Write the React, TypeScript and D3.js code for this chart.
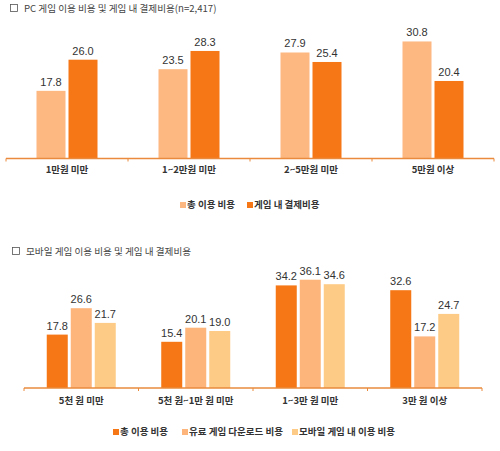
import * as d3 from 'd3';

// PC chart data
const pcCategories = ['1만원 미만', '1~2만원 미만', '2~5만원 미만', '5만원 이상'];
const pcSeries = ['총 이용 비용', '게임 내 결제비용'];
const pcTotal = [17.8, 23.5, 27.9, 30.8];
const pcInGame = [26.0, 28.3, 25.4, 20.4];

// Mobile chart data
const mobileCategories = ['5천 원 미만', '5천 원~1만 원 미만', '1~3만 원 미만', '3만 원 이상'];
const mobileSeries = ['총 이용 비용', '유료 게임 다운로드 비용', '모바일 게임 내 이용 비용'];
const mobileTotal = [17.8, 15.4, 34.2, 32.6];
const mobileDownload = [26.6, 20.1, 36.1, 17.2];
const mobileInGame = [21.7, 19.0, 34.6, 24.7];

const KR_FONT = '"Noto Sans CJK KR", "Noto Sans", sans-serif';
const NUM_FONT = '"Liberation Sans", Arial, sans-serif';
const AXIS_COLOR = '#E98A3C';
const TEXT_COLOR = '#333';

interface GroupedBarProps {
  title: string;
  categories: string[];
  series: string[];
  values: number[][];
  colors: string[];
  xRange: [number, number];
  baseY: number;
  domainMax: number;
  topY: number;
  barWidth: number;
  gap: number;
  titleX: number;
  titleY: number;
  catLabelY: number;
  legendY: number;
  legendX: number[];
}

function GroupedBar(p: GroupedBarProps) {
  const x = d3.scaleBand<string>().domain(p.categories).range(p.xRange).padding(0);
  const n = p.series.length;
  const step = p.barWidth + p.gap;
  const total = step * n - p.gap;
  const inner = d3
    .scaleBand<string>()
    .domain(p.series)
    .range([-total / 2, total / 2])
    .paddingInner(p.gap / step);
  const y = d3.scaleLinear().domain([0, p.domainMax]).range([p.baseY, p.topY]);

  // ticks sit on the band boundaries
  const boundaries = [...p.categories.map((c) => x(c) ?? 0), p.xRange[1]];

  return (
    <g>
      {/* title */}
      <rect x={p.titleX} y={p.titleY - 7.5} width={7} height={7} fill="none" stroke="#555" strokeWidth={0.8} />
      <text x={p.titleX + 13.5} y={p.titleY} fontFamily={KR_FONT} fontSize={9.6} fill="#444">
        {p.title}
      </text>

      {/* bars */}
      {p.categories.map((c, ci) => {
        const cx = (x(c) ?? 0) + x.bandwidth() / 2;
        return (
          <g key={c}>
            {p.series.map((s, si) => {
              const v = p.values[si][ci];
              const bx = cx + (inner(s) ?? 0);
              return (
                <g key={s}>
                  <rect
                    x={bx}
                    y={y(v)}
                    width={inner.bandwidth()}
                    height={p.baseY - y(v)}
                    fill={p.colors[si]}
                  />
                  <text
                    x={bx + inner.bandwidth() / 2}
                    y={y(v) - 5}
                    textAnchor="middle"
                    fontFamily={NUM_FONT}
                    fontSize={11}
                    fill={TEXT_COLOR}
                  >
                    {v.toFixed(1)}
                  </text>
                </g>
              );
            })}
            <text
              x={cx}
              y={p.catLabelY}
              textAnchor="middle"
              fontFamily={KR_FONT}
              fontSize={9.5}
              fontWeight={600}
              fill={TEXT_COLOR}
            >
              {c}
            </text>
          </g>
        );
      })}

      {/* axis */}
      <line x1={p.xRange[0]} x2={p.xRange[1]} y1={p.baseY} y2={p.baseY} stroke={AXIS_COLOR} strokeWidth={1.3} />
      {boundaries.map((bx, i) => (
        <line key={i} x1={bx} x2={bx} y1={p.baseY} y2={p.baseY + 3} stroke={AXIS_COLOR} strokeWidth={1} />
      ))}

      {/* legend */}
      {p.series.map((s, si) => (
        <g key={s} transform={`translate(${p.legendX[si]},${p.legendY})`}>
          <rect x={0} y={-6} width={6} height={6} fill={p.colors[si]} />
          <text x={7} y={0} fontFamily={KR_FONT} fontSize={9.5} fontWeight={600} fill={TEXT_COLOR}>
            {s}
          </text>
        </g>
      ))}
    </g>
  );
}

export default function App() {
  return (
    <svg
      width={500}
      height={451}
      style={{ position: 'absolute', left: 0, top: 0, background: '#fff' }}
    >
      <GroupedBar
        title="PC 게임 이용 비용 및 게임 내 결제비용(n=2,417)"
        categories={pcCategories}
        series={pcSeries}
        values={[pcTotal, pcInGame]}
        colors={['#FDB882', '#F57716']}
        xRange={[6, 494]}
        baseY={158.5}
        topY={25.5}
        domainMax={35}
        barWidth={29}
        gap={3}
        titleX={10.5}
        titleY={12}
        catLabelY={173}
        legendY={208}
        legendX={[180, 247]}
      />
      <GroupedBar
        title="모바일 게임 이용 비용 및 게임 내 결제비용"
        categories={mobileCategories}
        series={mobileSeries}
        values={[mobileTotal, mobileDownload, mobileInGame]}
        colors={['#F57716', '#FDB57C', '#FDCB85']}
        xRange={[24, 482]}
        baseY={388}
        topY={268}
        domainMax={40}
        barWidth={21}
        gap={3}
        titleX={12.5}
        titleY={255}
        catLabelY={404}
        legendY={435}
        legendX={[113, 182, 292]}
      />
    </svg>
  );
}
